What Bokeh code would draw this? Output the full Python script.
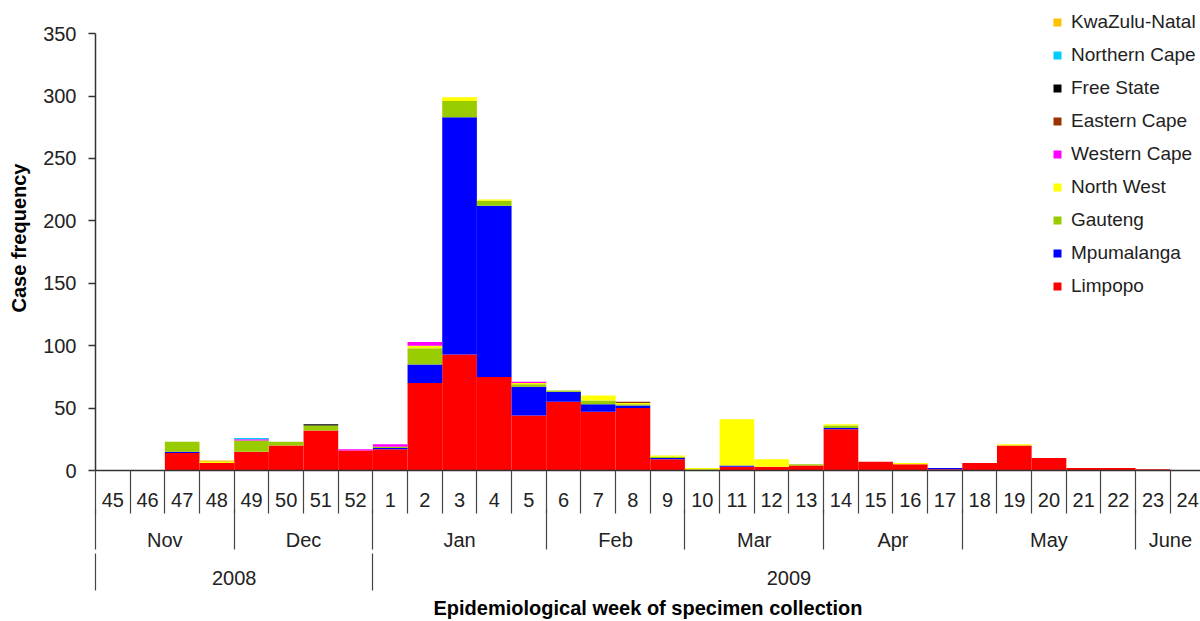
from bokeh.plotting import figure
from bokeh.models import ColumnDataSource, Range1d, LinearAxis, FixedTicker, Legend, LegendItem
from bokeh.embed import file_html
from bokeh.resources import INLINE

# ---- data ----
weeks = [45, 46, 47, 48, 49, 50, 51, 52, 1, 2, 3, 4, 5, 6, 7, 8, 9, 10, 11, 12,
         13, 14, 15, 16, 17, 18, 19, 20, 21, 22, 23, 24]
months = ["Nov", "Dec", "Jan", "Feb", "Mar", "Apr", "May", "June"]
month_weeks = [4, 4, 5, 4, 4, 4, 5, 2]
years = ["2008", "2009"]
year_weeks = [8, 24]
y_ticks = [0, 50, 100, 150, 200, 250, 300, 350]

limpopo =       [0, 0, 14, 6, 15, 20, 32, 16, 17, 70, 93, 75, 44, 55, 47, 50, 9, 0, 3, 3, 4, 33, 7, 5, 1, 6, 20, 10, 2, 2, 1, 0]
mpumalanga =    [0, 0, 1, 0, 0, 0, 0, 0, 1, 15, 190, 137, 23, 8, 6, 2, 1, 0, 1, 0, 0, 1, 0, 0, 1, 0, 0, 0, 0, 0, 0, 0]
gauteng =       [0, 0, 8, 0, 9, 3, 4, 0, 1, 13, 13, 4, 2, 1, 3, 1, 1, 1, 0, 0, 1, 2, 0, 0, 0, 0, 0, 0, 0, 0, 0, 0]
north_west =    [0, 0, 0, 1, 0, 0, 0, 0, 0, 2, 3, 1, 1, 0, 4, 1, 1, 1, 37, 6, 0, 1, 0, 1, 0, 0, 1, 0, 0, 0, 0, 0]
western_cape =  [0, 0, 0, 0, 1, 0, 0, 1, 2, 3, 0, 0, 1, 0, 0, 0, 0, 0, 0, 0, 0, 0, 0, 0, 0, 0, 0, 0, 0, 0, 0, 0]
eastern_cape =  [0, 0, 0, 0, 0, 0, 0, 0, 0, 0, 0, 0, 0, 0, 0, 1, 0, 0, 0, 0, 0, 0, 0, 0, 0, 0, 0, 0, 0, 0, 0, 0]
free_state =    [0, 0, 0, 0, 0, 0, 1, 0, 0, 0, 0, 0, 0, 0, 0, 0, 0, 0, 0, 0, 0, 0, 0, 0, 0, 0, 0, 0, 0, 0, 0, 0]
northern_cape = [0, 0, 0, 0, 1, 0, 0, 0, 0, 0, 0, 0, 0, 0, 0, 0, 0, 0, 0, 0, 0, 0, 0, 0, 0, 0, 0, 0, 0, 0, 0, 0]
kwazulu_natal = [0, 0, 0, 1, 0, 0, 0, 0, 0, 0, 0, 0, 0, 0, 0, 0, 0, 0, 0, 0, 0, 0, 0, 0, 0, 0, 0, 0, 0, 0, 0, 0]

provinces = ["Limpopo", "Mpumalanga", "Gauteng", "North West", "Western Cape",
             "Eastern Cape", "Free State", "Northern Cape", "KwaZulu-Natal"]
series = [limpopo, mpumalanga, gauteng, north_west, western_cape,
          eastern_cape, free_state, northern_cape, kwazulu_natal]
colors = ["#FF0000", "#0000FF", "#99CC00", "#FFFF00", "#FF00FF",
          "#993300", "#000000", "#00CCFF", "#FFC000"]

FONT = "Liberation Sans"
TXT = "#222222"

# ---- derived positions ----
x_centers = [i + 0.5 for i in range(len(weeks))]
data = {"x": x_centers}
for name, vals in zip(provinces, series):
    data[name] = vals
source = ColumnDataSource(data)

p = figure(width=1200, height=621, output_backend="svg", toolbar_location=None,
           x_range=Range1d(0, 31.87), y_range=Range1d(0, 372.5),
           x_axis_type=None, y_axis_type=None,
           min_border_left=95, min_border_right=0, min_border_top=5, min_border_bottom=150)
p.outline_line_color = None
p.background_fill_color = "white"
p.border_fill_color = "white"

renderers = p.vbar_stack(provinces, x="x", width=1.0, source=source,
                         color=colors, line_color=None)

# ---- y axis ----
yax = LinearAxis(ticker=FixedTicker(ticks=y_ticks), bounds=(0, 350))
yax.axis_label = "Case frequency"
yax.axis_label_text_font = FONT
yax.axis_label_text_font_style = "bold"
yax.axis_label_text_font_size = "20px"
yax.axis_label_text_color = "black"
yax.axis_label_standoff = 10
yax.major_label_text_font = FONT
yax.major_label_text_font_size = "20px"
yax.major_label_text_color = TXT
yax.major_label_standoff = 12
yax.major_tick_out = 7
yax.major_tick_in = 0
yax.minor_tick_line_color = None
yax.axis_line_color = "#333333"
yax.axis_line_width = 1.5
yax.major_tick_line_color = "#333333"
yax.major_tick_line_width = 1.5
p.add_layout(yax, "left")


def make_row_axis(centers, bounds, labels, tick_out, standoff):
    ax = LinearAxis(ticker=FixedTicker(ticks=centers, minor_ticks=bounds))
    ax.major_label_overrides = {c: str(t) for c, t in zip(centers, labels)}
    ax.major_tick_line_color = None
    ax.major_tick_out = 0
    ax.major_tick_in = 0
    ax.minor_tick_in = 0
    ax.minor_tick_out = tick_out
    ax.minor_tick_line_color = "#444444"
    ax.minor_tick_line_width = 1.2
    ax.axis_line_color = None
    ax.major_label_standoff = standoff
    ax.major_label_text_font = FONT
    ax.major_label_text_font_size = "20px"
    ax.major_label_text_color = TXT
    return ax


# ---- week axis ----
week_bounds = list(range(0, len(weeks)))
wax = make_row_axis(x_centers, week_bounds, weeks, 43, -21)
wax.axis_line_color = "#333333"
wax.axis_line_width = 1.5
p.add_layout(wax, "below")

# ---- month axis ----
m_bounds = [0]
for n in month_weeks:
    m_bounds.append(m_bounds[-1] + n)
m_centers = [(a + b) / 2 for a, b in zip(m_bounds[:-1], m_bounds[1:])]
max_ = make_row_axis(m_centers, m_bounds[:-1], months, 40, -21)
p.add_layout(max_, "below")

# ---- year axis ----
y_bounds = [0]
for n in year_weeks:
    y_bounds.append(y_bounds[-1] + n)
y_centers = [(a + b) / 2 for a, b in zip(y_bounds[:-1], y_bounds[1:])]
yrax = make_row_axis(y_centers, y_bounds[:-1], years, 37, -20)
yrax.axis_label = "Epidemiological week of specimen collection"
yrax.axis_label_text_font = FONT
yrax.axis_label_text_font_style = "bold"
yrax.axis_label_text_font_size = "20px"
yrax.axis_label_text_color = "black"
yrax.axis_label_standoff = 9
p.add_layout(yrax, "below")

# ---- legend ----
items = [LegendItem(label=name, renderers=[r]) for name, r in zip(provinces, renderers)]
items.reverse()
legend = Legend(items=items, location=(957, 173))
legend.background_fill_alpha = 0
legend.border_line_color = None
legend.padding = 0
legend.margin = 0
legend.spacing = 11
legend.label_height = 22
legend.glyph_height = 10
legend.glyph_width = 10
legend.label_standoff = 9
legend.label_text_font = FONT
legend.label_text_font_size = "19px"
legend.label_text_color = TXT
p.add_layout(legend)

open("out.html", "w").write(file_html(p, INLINE))
